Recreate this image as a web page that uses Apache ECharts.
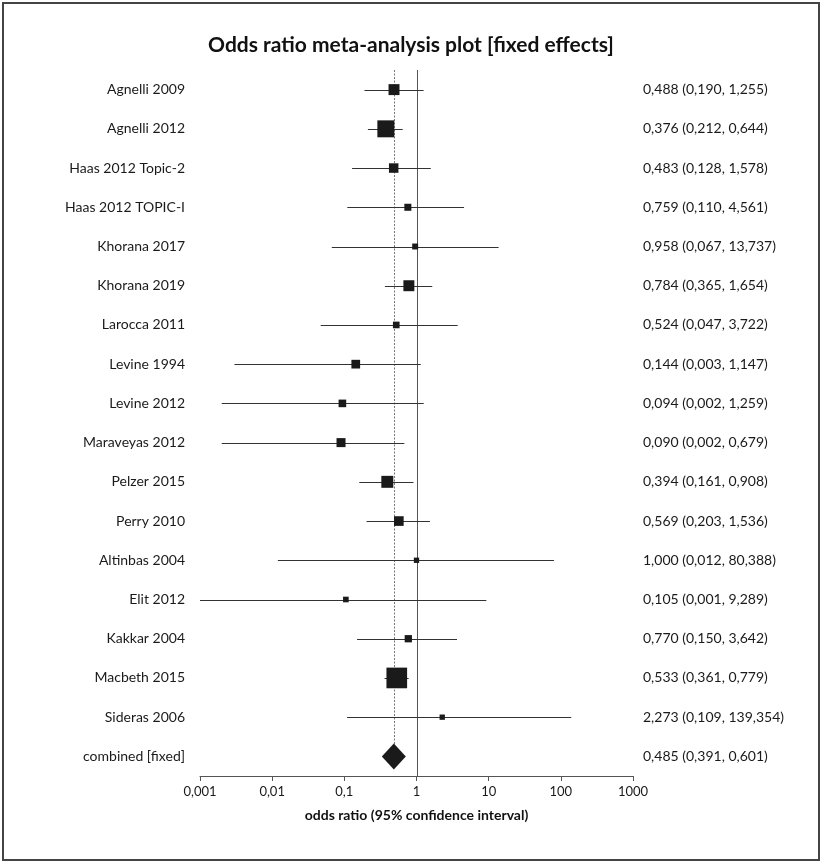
<!DOCTYPE html>
<html>
<head>
<meta charset="utf-8">
<title>Odds ratio meta-analysis plot [fixed effects]</title>
<script src="https://cdn.jsdelivr.net/npm/echarts@6/dist/echarts.min.js"></script>
<style>
  html, body { margin: 0; padding: 0; background: #fff; }
  #chart { width: 822px; height: 863px; }
</style>
</head>
<body>
<div id="chart"></div>
<script>
// Studies, top to bottom
const studies = [
  'Agnelli 2009', 'Agnelli 2012', 'Haas 2012 Topic-2', 'Haas 2012 TOPIC-I',
  'Khorana 2017', 'Khorana 2019', 'Larocca 2011', 'Levine 1994', 'Levine 2012',
  'Maraveyas 2012', 'Pelzer 2015', 'Perry 2010', 'Altinbas 2004', 'Elit 2012',
  'Kakkar 2004', 'Macbeth 2015', 'Sideras 2006'
];
// Odds ratio and 95% CI bounds per study
const oddsRatio = [0.488, 0.376, 0.483, 0.759, 0.958, 0.784, 0.524, 0.144, 0.094,
                   0.090, 0.394, 0.569, 1.000, 0.105, 0.770, 0.533, 2.273];
const ciLower   = [0.190, 0.212, 0.128, 0.110, 0.067, 0.365, 0.047, 0.003, 0.002,
                   0.002, 0.161, 0.203, 0.012, 0.001, 0.150, 0.361, 0.109];
const ciUpper   = [1.255, 0.644, 1.578, 4.561, 13.737, 1.654, 3.722, 1.147, 1.259,
                   0.679, 0.908, 1.536, 80.388, 9.289, 3.642, 0.779, 139.354];
// Relative study weights (%), shown as box area
const weights   = [6.8, 16.3, 5.1, 2.8, 2.0, 6.8, 2.5, 4.3, 3.3,
                   4.6, 8.1, 5.3, 1.6, 1.8, 3.0, 24.2, 1.6];
// Pooled (fixed effects) estimate
const pooledLabel = 'combined [fixed]';
const pooled = { or: 0.485, lo: 0.391, hi: 0.601 };
// X axis tick labels, 10^-3 .. 10^3
const tickLabels = ['0,001', '0,01', '0,1', '1', '10', '100', '1000'];

const FONT = 'Lato, "Open Sans", sans-serif';
const rows = studies.concat([pooledLabel]);
const fmt = v => v.toFixed(3).replace('.', ',');
const ciText = oddsRatio.map((v, i) => `${fmt(v)} (${fmt(ciLower[i])}, ${fmt(ciUpper[i])})`)
  .concat([`${fmt(pooled.or)} (${fmt(pooled.lo)}, ${fmt(pooled.hi)})`]);

const studyData = studies.map((s, i) => [oddsRatio[i], i, ciLower[i], ciUpper[i], weights[i]]);
const pooledIndex = studies.length;
const BOX_SCALE = 4.2;
const crisp = v => Math.round(v) + 0.5;

const chart = echarts.init(document.getElementById('chart'), null, { renderer: 'canvas' });
chart.setOption({
  animation: false,
  backgroundColor: '#fff',
  title: {
    text: 'Odds ratio meta-analysis plot [fixed effects]',
    left: 'center',
    top: 30,
    textStyle: { fontFamily: FONT, fontSize: 21, fontWeight: 'bold', color: '#111' }
  },
  graphic: [{
    type: 'rect',
    shape: { x: 3, y: 3, width: 816, height: 857 },
    style: { fill: 'none', stroke: '#444', lineWidth: 2 },
    silent: true
  }],
  grid: { left: 200, right: 189, top: 70, bottom: 87 },
  xAxis: {
    type: 'log',
    logBase: 10,
    min: 0.001,
    max: 1000,
    axisLine: { show: true, lineStyle: { color: '#555', width: 1 } },
    axisTick: { show: true, length: 5, lineStyle: { color: '#555' } },
    splitLine: { show: false },
    axisLabel: {
      margin: 9,
      fontFamily: FONT, fontSize: 13, color: '#1a1a1a',
      formatter: v => tickLabels[Math.round(Math.log10(v)) + 3]
    },
    name: 'odds ratio (95% confidence interval)',
    nameLocation: 'middle',
    nameGap: 32,
    nameTextStyle: { fontFamily: FONT, fontSize: 14, fontWeight: 'bold', color: '#111' }
  },
  yAxis: [{
    type: 'category',
    inverse: true,
    data: rows,
    axisLine: { show: false },
    axisTick: { show: false },
    splitLine: { show: false },
    axisLabel: { margin: 15, fontFamily: FONT, fontSize: 14, color: '#1a1a1a' }
  }, {
    type: 'category',
    position: 'right',
    inverse: true,
    data: rows,
    axisLine: { show: false },
    axisTick: { show: false },
    splitLine: { show: false },
    axisLabel: {
      margin: 10, fontFamily: FONT, fontSize: 14, color: '#1a1a1a',
      formatter: (v, i) => ciText[i]
    }
  }],
  series: [{
    // reference lines: no effect (OR = 1) and pooled estimate
    type: 'custom',
    data: [[1, 0]],
    z: 1,
    silent: true,
    renderItem: (params, api) => {
      const cs = params.coordSys;
      const x1 = crisp(api.coord([1, 0])[0]);
      const xp = crisp(api.coord([pooled.or, 0])[0]);
      const yPooled = api.coord([pooled.or, pooledIndex])[1];
      return {
        type: 'group',
        children: [{
          type: 'line',
          shape: { x1: x1, y1: cs.y, x2: x1, y2: cs.y + cs.height },
          style: { stroke: '#555', lineWidth: 1 }
        }, {
          type: 'line',
          shape: { x1: xp, y1: cs.y, x2: xp, y2: yPooled },
          style: { stroke: '#777', lineWidth: 1, lineDash: [2, 1.5] }
        }]
      };
    }
  }, {
    // study estimates with confidence intervals
    type: 'custom',
    data: studyData,
    encode: { x: 0, y: 1 },
    z: 2,
    renderItem: (params, api) => {
      const idx = api.value(1);
      const c = api.coord([api.value(0), idx]);
      const l = api.coord([api.value(2), idx]);
      const r = api.coord([api.value(3), idx]);
      const y = crisp(c[1]);
      const s = BOX_SCALE * Math.sqrt(api.value(4));
      return {
        type: 'group',
        children: [{
          type: 'line',
          shape: { x1: l[0], y1: y, x2: r[0], y2: y },
          style: { stroke: '#333', lineWidth: 1 }
        }, {
          type: 'rect',
          shape: { x: c[0] - s / 2, y: c[1] - s / 2, width: s, height: s },
          style: { fill: '#1a1a1a' }
        }]
      };
    }
  }, {
    // pooled estimate diamond
    type: 'custom',
    data: [[pooled.or, pooledIndex, pooled.lo, pooled.hi]],
    encode: { x: 0, y: 1 },
    z: 3,
    renderItem: (params, api) => {
      const idx = api.value(1);
      const c = api.coord([api.value(0), idx]);
      const l = api.coord([api.value(2), idx]);
      const r = api.coord([api.value(3), idx]);
      return {
        type: 'group',
        children: [{
          type: 'line',
          shape: { x1: l[0], y1: crisp(c[1]), x2: r[0], y2: crisp(c[1]) },
          style: { stroke: '#333', lineWidth: 1 }
        }, {
          type: 'polygon',
          shape: { points: [[c[0] - 12, c[1]], [c[0], c[1] - 13], [c[0] + 12, c[1]], [c[0], c[1] + 13]] },
          style: { fill: '#1a1a1a' }
        }]
      };
    }
  }]
});
</script>
</body>
</html>
